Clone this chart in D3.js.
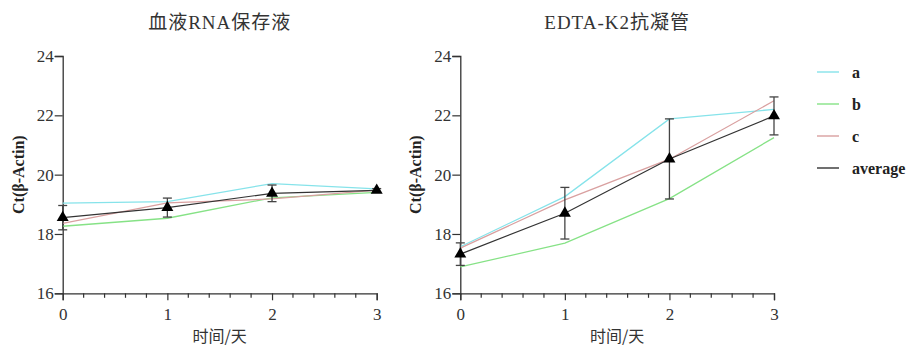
<!DOCTYPE html>
<html><head><meta charset="utf-8">
<script src="https://cdn.jsdelivr.net/npm/d3@7"></script>
<style>body{margin:0;background:#fff}</style>
</head><body>
<svg id="c" width="913" height="347"></svg>
<script>
const days = [0, 1, 2, 3];
const yTicks = [16, 18, 20, 22, 24];
const seriesNames = ["a", "b", "c", "average"];
const seriesColors = ["#86e3ea", "#86e286", "#d9a0a0", "#333333"];
const titles = ["血液RNA保存液", "EDTA-K2抗凝管"];
// left panel
const leftA = [19.04, 19.09, 19.70, 19.52];
const leftB = [18.26, 18.53, 19.22, 19.40];
const leftC = [18.36, 19.05, 19.18, 19.48];
const leftAvg = [18.55, 18.89, 19.37, 19.47];
const leftErr = [0.41, 0.32, 0.28, 0.06];
// right panel
const rightA = [17.57, 19.26, 21.88, 22.20];
const rightB = [16.89, 17.69, 19.19, 21.25];
const rightC = [17.52, 19.15, 20.52, 22.49];
const rightAvg = [17.32, 18.70, 20.53, 21.98];
const rightErr = [0.38, 0.87, 1.35, 0.64];

const panels = [
  {x0: 62.7, x1: 376.7, title: titles[0], data: [leftA, leftB, leftC, leftAvg], err: leftErr},
  {x0: 460.3, x1: 774, title: titles[1], data: [rightA, rightB, rightC, rightAvg], err: rightErr}
];
const svg = d3.select("#c");
const yTop = 56, yBot = 293.3;
const serif = "'Liberation Serif','DejaVu Serif',serif";
const cjk = "'Noto Sans CJK SC',sans-serif";
const titleFont = "'Liberation Serif','Noto Sans CJK SC',serif";

panels.forEach(p => {
  const x = d3.scaleLinear().domain([0, 3]).range([p.x0, p.x1]);
  const y = d3.scaleLinear().domain([16, 24]).range([yBot, yTop]);
  const g = svg.append("g");

  // minor x ticks
  const minor = d3.range(0, 3.0001, 0.2).filter(v => Math.abs(v - Math.round(v)) > 1e-6);
  g.append("g").attr("transform", `translate(0,${yBot})`)
    .selectAll("line").data(minor).join("line")
    .attr("x1", d => x(d)).attr("x2", d => x(d)).attr("y1", 0).attr("y2", 4.5)
    .attr("stroke", "#333").attr("stroke-width", 1.2);

  const xa = g.append("g").attr("transform", `translate(0,${yBot})`)
    .call(d3.axisBottom(x).tickValues(days).tickSize(7).tickPadding(5).tickFormat(d3.format("d")));
  const ya = g.append("g").attr("transform", `translate(${p.x0},0)`)
    .call(d3.axisLeft(y).tickValues(yTicks).tickSize(8).tickPadding(1).tickFormat(d3.format("d")));
  [xa, ya].forEach(a => {
    a.attr("font-family", serif);
    a.select(".domain").attr("stroke", "#333").attr("stroke-width", 1.3);
    a.selectAll(".tick line").attr("stroke", "#333").attr("stroke-width", 1.2);
    a.selectAll("text").attr("font-family", serif).attr("font-size", 17).attr("fill", "#333");
  });
  xa.selectAll("text").attr("dy", "0.85em");

  // lines
  const line = d3.line().x((d, i) => x(days[i])).y(d => y(d));
  p.data.forEach((s, k) => {
    g.append("path").datum(s).attr("d", line).attr("fill", "none")
      .attr("stroke", seriesColors[k]).attr("stroke-width", k === 3 ? 1.2 : 1.3);
  });
  // error bars
  const avg = p.data[3];
  const eb = g.append("g").attr("stroke", "#444").attr("stroke-width", 1.3);
  days.forEach((dd, i) => {
    const cx = x(dd), t = y(avg[i] + p.err[i]), b = y(avg[i] - p.err[i]);
    eb.append("line").attr("x1", cx).attr("x2", cx).attr("y1", t).attr("y2", b);
    eb.append("line").attr("x1", cx - 4.5).attr("x2", cx + 4.5).attr("y1", t).attr("y2", t);
    eb.append("line").attr("x1", cx - 4.5).attr("x2", cx + 4.5).attr("y1", b).attr("y2", b);
  });
  // triangles
  const tri = d3.symbol().type(d3.symbolTriangle).size(62);
  g.selectAll("path.tri").data(avg).join("path").attr("class", "tri")
    .attr("d", tri).attr("transform", (d, i) => `translate(${x(days[i])},${y(d)})`)
    .attr("fill", "#000");

  // title
  const cx = (p.x0 + p.x1) / 2;
  svg.append("text").attr("x", cx).attr("y", 29).attr("text-anchor", "middle")
    .attr("font-family", titleFont).attr("font-size", 19)
    .attr("letter-spacing", 1).attr("fill", "#333").text(p.title);
  // x label
  svg.append("text").attr("x", cx).attr("y", 342).attr("text-anchor", "middle")
    .attr("font-family", cjk).attr("font-size", 16).attr("fill", "#333").text("时间/天");
  // y label
  svg.append("text").attr("transform", `translate(${p.x0 - 39},${(yTop + yBot) / 2}) rotate(-90)`)
    .attr("text-anchor", "middle").attr("font-family", serif).attr("font-weight", "bold")
    .attr("font-size", 16).attr("fill", "#222").text("Ct(β-Actin)");
});

// legend
const lg = svg.append("g");
const legY = [72, 104, 136, 168];
seriesNames.forEach((n, i) => {
  lg.append("line").attr("x1", 817).attr("x2", 839).attr("y1", legY[i]).attr("y2", legY[i])
    .attr("stroke", seriesColors[i]).attr("stroke-width", 1.4);
  lg.append("text").attr("x", 852).attr("y", legY[i]).attr("dy", "0.35em")
    .attr("font-family", serif).attr("font-weight", "bold").attr("font-size", 16).attr("fill", "#222").text(n);
});
</script>
</body></html>
